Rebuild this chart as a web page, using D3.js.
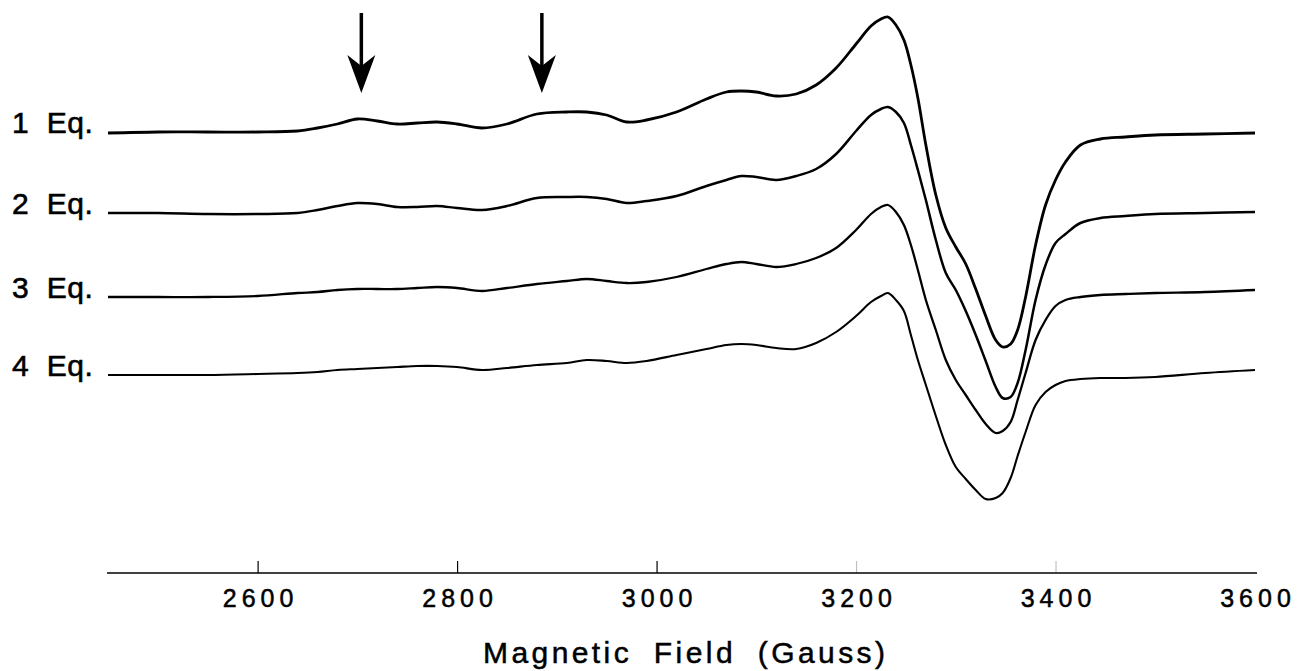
<!DOCTYPE html>
<html>
<head>
<meta charset="utf-8">
<script src="https://cdn.jsdelivr.net/npm/d3@7"></script>
<style>
  body { margin: 0; background: #fff; }
  text { font-family: "Liberation Sans", Arial, sans-serif; fill: #000; }
</style>
</head>
<body>
<div id="chart"></div>
<script>
// magnetic field grid (Gauss)
var field = [2450, 2500, 2550, 2600, 2640, 2660, 2680, 2700, 2720, 2740, 2760, 2780, 2800, 2825, 2850,
  2880, 2910, 2930, 2950, 2970, 2990, 3020, 3050, 3070, 3085, 3100, 3120, 3140, 3160, 3180,
  3200, 3215, 3225, 3232, 3240, 3248, 3255, 3262, 3270, 3280, 3290, 3300, 3310, 3320, 3330,
  3340, 3347, 3355, 3362, 3370, 3380, 3390, 3400, 3410, 3425, 3445, 3470, 3500, 3550, 3600];

// EPR signal (arbitrary units) for each equivalent
var eq1 = [-1, 0, 0, 0, 1, 4, 8, 13, 11, 8, 9, 10, 8, 4, 8,
  18, 20, 20, 17, 10, 12, 20, 33, 40, 41, 40, 36, 38, 47, 64,
  88, 106, 113, 115, 107, 92, 67, 34, -13, -63, -96, -115, -132, -157, -184,
  -208, -215, -212, -198, -165, -113, -73, -48, -30, -13, -7, -5, -3, -2, -1];
var eq2 = [0, 0, -1, -1, 0, 3, 7, 10, 9, 6, 6, 7, 5, 3, 7,
  15, 16, 16, 14, 10, 12, 17, 27, 33, 37, 36, 33, 37, 44, 59,
  82, 98, 104, 106, 101, 90, 68, 43, 13, -27, -60, -77, -98, -122, -148,
  -174, -185, -184, -170, -137, -87, -52, -30, -21, -10, -5, -3, -1, 0, 1];
var eq3 = [0, 0, 0, 1, 4, 5, 7, 8, 8, 8, 9, 10, 9, 6, 9,
  13, 16, 18, 16, 14, 15, 20, 28, 33, 35, 33, 30, 33, 39, 49,
  67, 83, 90, 92, 85, 72, 52, 27, -3, -33, -63, -83, -98, -113, -127,
  -136, -134, -125, -103, -76, -43, -23, -9, -3, 0, 2, 3, 4, 5, 7];
var eq4 = [0, 0, 0, 1, 2, 3, 5, 6, 7, 8, 9, 9, 8, 5, 7,
  10, 12, 15, 14, 12, 14, 20, 26, 30, 31, 30, 27, 26, 32, 43,
  59, 73, 79, 82, 75, 64, 40, 15, -10, -41, -70, -92, -104, -115, -124,
  -123, -118, -103, -81, -57, -30, -17, -10, -6, -4, -3, -3, -2, 2, 5];

var seriesNames = ["1 Eq.", "2 Eq.", "3 Eq.", "4 Eq."];
var seriesValues = [eq1, eq2, eq3, eq4];
var offsets = [0, -81, -165, -243];
var tickValues = [2600, 2800, 3000, 3200, 3400, 3600];
var arrowFields = [2704, 2885];

var width = 1300, height = 671;

var svg = d3.select("#chart")
  .append("svg")
    .attr("width", width)
    .attr("height", height);

var x = d3.scaleLinear()
  .domain([2450, 3600])
  .range([108, 1255]);

var y = d3.scaleLinear()
  .domain([132, -448])
  .range([0, 580]);

var line = d3.line()
  .x(function(d) { return x(d.f); })
  .y(function(d) { return y(d.v); })
  .curve(d3.curveCatmullRom.alpha(0.5));

var widths = [2.8, 2.5, 2.3, 2.1];

seriesValues.forEach(function(vals, i) {
  var pts = field.map(function(f, j) { return {f: f, v: vals[j] + offsets[i]}; });
  svg.append("path")
    .datum(pts)
    .attr("d", line)
    .attr("fill", "none")
    .attr("stroke", "#000")
    .attr("stroke-width", widths[i])
    .attr("stroke-linejoin", "round");

  svg.append("text")
    .attr("x", 12)
    .attr("y", y(offsets[i]) + 1)
    .style("font-size", "30px")
    .style("letter-spacing", "0.5px")
    .style("stroke", "#000")
    .style("stroke-width", 0.6)
    .text(seriesNames[i].replace(" ", "\u00a0\u00a0"));
});

// arrows
arrowFields.forEach(function(f) {
  var ax = x(f);
  svg.append("line")
    .attr("x1", ax).attr("x2", ax)
    .attr("y1", 13).attr("y2", 70)
    .attr("stroke", "#000")
    .attr("stroke-width", 3.5);
  svg.append("path")
    .attr("d", "M" + (ax - 14) + ",55 L" + ax + ",93 L" + (ax + 14) + ",55 L" + ax + ",66 Z")
    .attr("fill", "#000");
});

// axis
var axis = svg.append("g")
  .attr("transform", "translate(0,573)")
  .call(d3.axisBottom(x).tickValues(tickValues).tickSize(-12).tickPadding(14)
    .tickFormat(d3.format("d")));
axis.select(".domain")
  .attr("stroke", "#000")
  .attr("stroke-width", 1.6)
  .attr("d", "M107,0H1257");
axis.selectAll(".tick line")
  .attr("stroke", "#000")
  .attr("stroke-width", 1.2)
  .attr("stroke-opacity", function(d) { return d >= 3200 ? 0.25 : 1; });
axis.selectAll(".tick")
  .filter(function(d) { return d === 3600; })
  .select("line").remove();
axis.selectAll(".tick text")
  .attr("dy", 0)
  .attr("y", 34)
  .attr("dx", 2.5)
  .style("font-size", "25px")
  .style("letter-spacing", "5px")
  .style("stroke", "#000")
  .style("stroke-width", 0.5)
  .style("font-family", "'Liberation Sans', Arial, sans-serif");

svg.append("text")
  .attr("x", 483)
  .attr("y", 663)
  .attr("textLength", 402)
  .attr("lengthAdjust", "spacing")
  .style("font-size", "30px")
  .style("word-spacing", "10px")
  .style("stroke", "#000")
  .style("stroke-width", 0.5)
  .text("Magnetic Field (Gauss)");
</script>
</body>
</html>
